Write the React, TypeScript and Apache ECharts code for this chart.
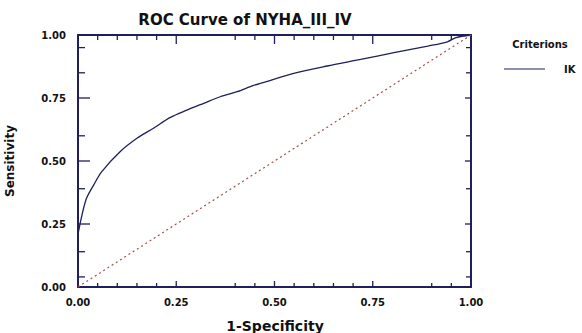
import React, { useEffect, useRef } from "react";
import * as echarts from "echarts";

const fpr = [0, 0.02, 0.04, 0.06, 0.107, 0.15, 0.192, 0.235, 0.277, 0.32, 0.362, 0.405, 0.447, 0.49, 0.549, 0.634, 0.719, 0.804, 0.89, 0.94, 0.962, 1];
const tpr = [0.21, 0.345, 0.405, 0.457, 0.537, 0.59, 0.63, 0.673, 0.702, 0.729, 0.755, 0.775, 0.8, 0.82, 0.848, 0.877, 0.903, 0.93, 0.956, 0.973, 0.99, 1];
const diagX = [0, 1];
const diagY = [0, 1];
const seriesName = "IK";
const titleText = "ROC Curve of NYHA_III_IV";
const xTitle = "1-Specificity";
const yTitle = "Sensitivity";
const legendTitle = "Criterions";

// tick positions
const xMajorTicks = [0.25, 0.5, 0.75];
const xMinorTicks = [0.05, 0.1, 0.15, 0.2, 0.4, 0.45, 0.55, 0.6, 0.65, 0.7, 0.9, 0.95];
const yMajorTicks = [0.25, 0.5, 0.75];
const yMinorTicks = [0.04, 0.14, 0.39, 0.6, 0.85, 0.95];

const AXIS = "#1f1f5c";
const FONT = "DejaVu Sans, Liberation Sans, Arial, sans-serif";

function makeAxis(position: string, showLabel: boolean, margin: number) {
  return {
    type: "value",
    position,
    min: 0,
    max: 1,
    interval: 0.25,
    splitLine: { show: false },
    axisLine: { show: true, onZero: false, lineStyle: { color: AXIS, width: 2 } },
    axisTick: { show: false },
    minorTick: { show: false },
    axisLabel: {
      show: showLabel,
      fontFamily: FONT,
      fontWeight: "bold",
      fontSize: 10,
      color: "#111",
      margin,
      formatter: (v: number) => v.toFixed(2),
    },
  };
}

export default function App() {
  const ref = useRef<HTMLDivElement>(null);
  useEffect(() => {
    if (!ref.current) return;
    const chart = echarts.init(ref.current, undefined, { renderer: "svg" });
    // [value, side(0 bottom,1 top,2 left,3 right), length, dummy]
    const tickData: number[][] = [];
    xMajorTicks.forEach((v) => { tickData.push([v, 0, 6, 0]); tickData.push([v, 1, 9, 0]); });
    xMinorTicks.forEach((v) => { tickData.push([v, 0, 4, 0]); tickData.push([v, 1, 5, 0]); });
    yMajorTicks.forEach((v) => { tickData.push([v, 2, 12, 0]); tickData.push([v, 3, 6, 0]); });
    yMinorTicks.forEach((v) => { tickData.push([v, 2, 7, 0]); tickData.push([v, 3, 5, 0]); });

    chart.setOption({
      animation: false,
      backgroundColor: "#fff",
      grid: { left: 78, top: 35, right: 111, bottom: 46 },
      xAxis: [makeAxis("bottom", true, 10), makeAxis("top", false, 8)],
      yAxis: [makeAxis("left", true, 12), makeAxis("right", false, 8)],
      legend: {
        data: [seriesName],
        left: 499,
        top: 59,
        itemWidth: 41,
        itemHeight: 12,
        icon: "path://M0,5 L41,5 L41,6 L0,6 Z",
        textStyle: { fontFamily: FONT, fontWeight: "bold", fontSize: 10, color: "#111", padding: [0, 0, 0, 14] },
      },
      graphic: [
        {
          type: "text",
          x: 245,
          y: 20,
          style: { text: titleText, fontFamily: FONT, fontWeight: "bold", fontSize: 15, fill: "#111", align: "center", verticalAlign: "middle" },
        },
        {
          type: "text",
          x: 275,
          y: 326,
          style: { text: xTitle, fontFamily: FONT, fontWeight: "bold", fontSize: 14, fill: "#111", align: "center", verticalAlign: "middle" },
        },
        {
          type: "text",
          x: 10,
          y: 161,
          rotation: Math.PI / 2,
          style: { text: yTitle, fontFamily: FONT, fontWeight: "bold", fontSize: 12, fill: "#111", align: "center", verticalAlign: "middle" },
        },
        {
          type: "text",
          x: 540,
          y: 44,
          style: { text: legendTitle, fontFamily: FONT, fontWeight: "bold", fontSize: 10, fill: "#111", align: "center", verticalAlign: "middle" },
        },
      ],
      series: [
        {
          name: seriesName,
          type: "line",
          xAxisIndex: 0,
          yAxisIndex: 0,
          data: fpr.map((x, i) => [x, tpr[i]]),
          showSymbol: false,
          smooth: 0.3,
          lineStyle: { color: AXIS, width: 1.3 },
          itemStyle: { color: AXIS },
        },
        {
          name: "Reference",
          type: "line",
          xAxisIndex: 0,
          yAxisIndex: 0,
          data: diagX.map((x, i) => [x, diagY[i]]),
          showSymbol: false,
          lineStyle: { color: "#a0524a", width: 1.2, type: [2, 3] },
          itemStyle: { color: "#a0524a" },
        },
        {
          name: "ticks",
          type: "custom",
          xAxisIndex: 0,
          yAxisIndex: 0,
          silent: true,
          clip: false,
          z: 10,
          encode: { x: 0, y: 3 },
          data: tickData,
          renderItem: (_params: any, api: any) => {
            const v = api.value(0);
            const side = api.value(1);
            const len = api.value(2);
            let p: number[];
            let dx = 0;
            let dy = 0;
            if (side === 0) { p = api.coord([v, 0]); dy = -len; }
            else if (side === 1) { p = api.coord([v, 1]); dy = len; }
            else if (side === 2) { p = api.coord([0, v]); dx = len; }
            else { p = api.coord([1, v]); dx = -len; }
            return {
              type: "line",
              shape: { x1: p[0], y1: p[1], x2: p[0] + dx, y2: p[1] + dy },
              style: { stroke: AXIS, lineWidth: 1.3 },
            };
          },
        },
      ],
    });
    return () => chart.dispose();
  }, []);
  return <div ref={ref} style={{ position: "fixed", left: 0, top: 0, width: 582, height: 333, background: "#fff" }} />;
}
